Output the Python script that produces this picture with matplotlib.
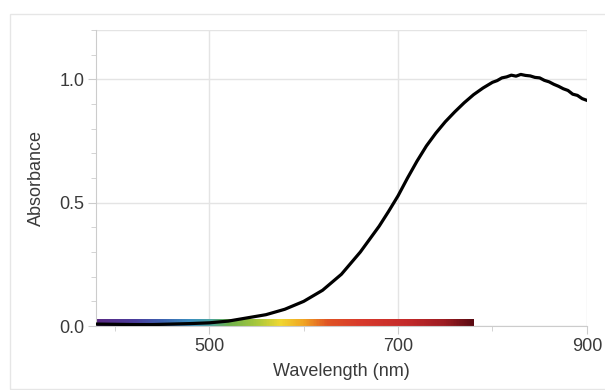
import numpy as np
import matplotlib.pyplot as plt
from matplotlib.colors import LinearSegmentedColormap
from matplotlib.patches import Rectangle

plt.rcParams['font.family'] = ['Liberation Sans', 'DejaVu Sans']

# absorbance spectrum
wavelength = [380, 400, 420, 440, 460, 480, 500, 520, 540, 560, 580, 600, 620,
              640, 660, 680, 690, 700, 710, 720, 730, 740, 750, 760, 770, 780,
              790, 800, 805, 810, 815, 820, 825, 830, 835, 840, 845, 850, 855,
              860, 865, 870, 875, 880, 885, 890, 895, 900]
absorbance = [0.008, 0.007, 0.006, 0.006, 0.008, 0.010, 0.013, 0.020, 0.033,
              0.046, 0.068, 0.100, 0.145, 0.210, 0.300, 0.405, 0.465, 0.528,
              0.600, 0.668, 0.730, 0.782, 0.828, 0.868, 0.905, 0.938, 0.965,
              0.988, 0.995, 1.006, 1.010, 1.017, 1.013, 1.020, 1.016, 1.014,
              1.008, 1.006, 0.996, 0.990, 0.980, 0.972, 0.962, 0.955, 0.940,
              0.935, 0.922, 0.915]

# visible spectrum strip under the axis
spectrum_nm = [380, 420, 450, 480, 500, 520, 550, 575, 600, 625, 660, 710, 750, 780]
spectrum_colors = ['#5a2a84', '#4a3c9c', '#3c62b0', '#3c90c0', '#4aa2a0',
                   '#6cb04c', '#a8c83c', '#f0d832', '#f0a424', '#e05424',
                   '#d83a2c', '#c42a2a', '#9c1c22', '#5a0a12']

xticks = [500, 700, 900]
yticks = [0.0, 0.5, 1.0]

fig = plt.figure(figsize=(6.05, 3.9), dpi=100)
ax = fig.add_axes([0.1587, 0.164, 0.8113, 0.759])

# light frame around the whole chart (right edge runs off the image)
fig.patches.append(Rectangle((10 / 605, 1.5 / 390), 610 / 605, 374.5 / 390,
                             transform=fig.transFigure, fill=False,
                             edgecolor='#e6e6e6', linewidth=1))

pos = [(w - spectrum_nm[0]) / (spectrum_nm[-1] - spectrum_nm[0]) for w in spectrum_nm]
cmap = LinearSegmentedColormap.from_list('spectrum', list(zip(pos, spectrum_colors)))
ax.imshow(np.linspace(0, 1, 400).reshape(1, -1), cmap=cmap, aspect='auto',
          extent=[spectrum_nm[0], spectrum_nm[-1], -0.004, 0.026], zorder=2,
          clip_on=False)

ax.plot(wavelength, absorbance, color='black', linewidth=2.3, zorder=3)

ax.set_xlim(380, 900)
ax.set_ylim(0, 1.2)
ax.set_xticks(xticks)
ax.set_yticks(yticks)
ax.set_xticks([400, 600, 800], minor=True)
ax.set_yticks(np.arange(0, 1.21, 0.1), minor=True)
ax.set_yticklabels([f'{v:.1f}' for v in yticks])

ax.grid(True, which='major', color='#e4e4e4', linewidth=1)
ax.axhline(1.2, color='#e4e4e4', linewidth=1)
ax.set_axisbelow(True)

for side in ['top', 'right']:
    ax.spines[side].set_visible(False)
for side in ['left', 'bottom']:
    ax.spines[side].set_color('#cccccc')

ax.tick_params(which='major', length=5.5, color='#cccccc', labelsize=13,
               labelcolor='#3a3a3a', pad=3)
ax.tick_params(which='minor', length=3.5, color='#cccccc')

ax.set_xlabel('Wavelength (nm)', fontsize=13, color='#3a3a3a', labelpad=6)
ax.set_ylabel('Absorbance', fontsize=13, color='#3a3a3a', labelpad=10)

fig.savefig('out.png', dpi=100)
